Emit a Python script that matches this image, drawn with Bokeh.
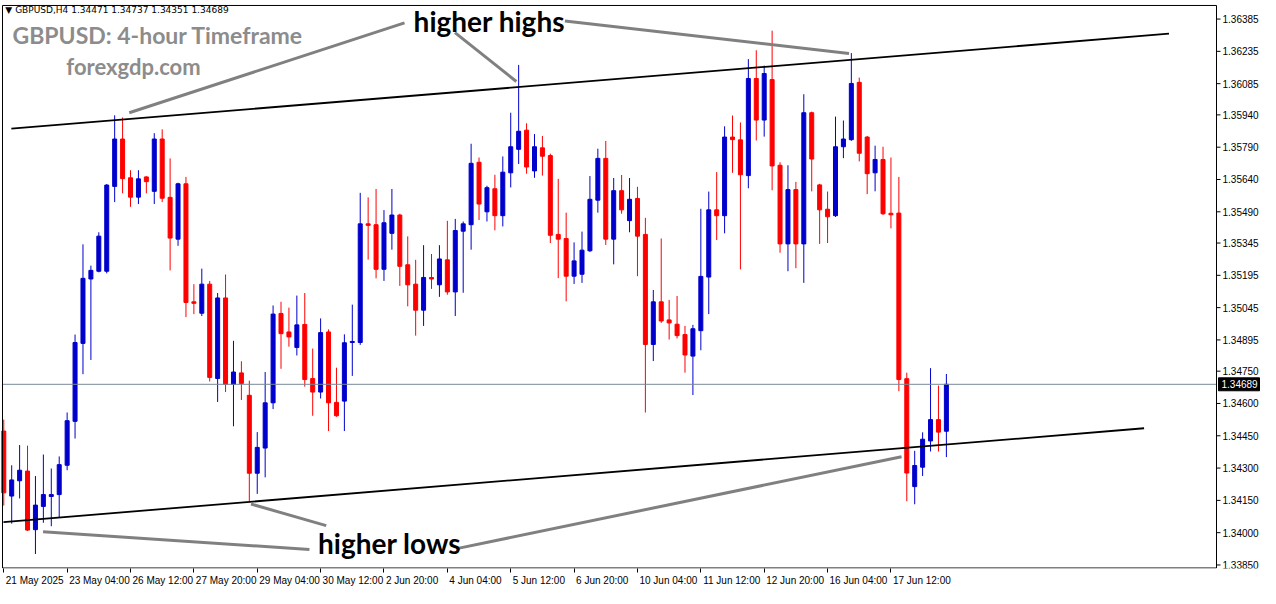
from bokeh.plotting import figure
from bokeh.models import FixedTicker, Label, Range1d, ColumnDataSource
from bokeh.core.properties import value
from bokeh.embed import file_html
from bokeh.resources import INLINE

# ---------------- data (GBPUSD H4, bar index 0 = 21 May 2025 20:00) ----------------
opens = [1.34472, 1.34170, 1.34241, 1.34286, 1.34014, 1.34122, 1.34168, 1.34177, 1.34313, 1.34517,
         1.34879, 1.35178, 1.35214, 1.35214, 1.35608, 1.35828, 1.35648, 1.35558, 1.35652, 1.35585,
         1.35828, 1.35557, 1.35363, 1.35620, 1.35072, 1.35019, 1.35154, 1.34716, 1.35090, 1.34689,
         1.34742, 1.34638, 1.34276, 1.34393, 1.34603, 1.35018, 1.34932, 1.34860, 1.34967, 1.34716,
         1.34653, 1.34932, 1.34605, 1.34611, 1.34883, 1.34883, 1.35434, 1.35430, 1.35223, 1.35390,
         1.35475, 1.35244, 1.35154, 1.35033, 1.35185, 1.35151, 1.35267, 1.35118, 1.35400, 1.35430,
         1.35720, 1.35490, 1.35597, 1.35472, 1.35671, 1.35780, 1.35869, 1.35680, 1.35787, 1.35751,
         1.35385, 1.35366, 1.35191, 1.35200, 1.35309, 1.35544, 1.35738, 1.35363, 1.35588, 1.35449,
         1.35552, 1.35385, 1.34874, 1.35072, 1.34988, 1.34968, 1.34920, 1.34820, 1.34938, 1.35187,
         1.35499, 1.35472, 1.35837, 1.35824, 1.35658, 1.36109, 1.35916, 1.36104, 1.35706, 1.35341,
         1.35593, 1.35341, 1.35950, 1.35615, 1.35502, 1.35472, 1.35792, 1.35825, 1.36091, 1.35837,
         1.35671, 1.35733, 1.35483, 1.35484, 1.34715, 1.34214, 1.34304, 1.34426, 1.34525, 1.34471]
highs = [1.34525, 1.34313, 1.34407, 1.34404, 1.34263, 1.34363, 1.34298, 1.34354, 1.34558, 1.34920,
         1.35339, 1.35240, 1.35395, 1.35619, 1.35938, 1.35928, 1.35683, 1.35683, 1.35655, 1.35855,
         1.35873, 1.35738, 1.35625, 1.35652, 1.35154, 1.35226, 1.35169, 1.35113, 1.35199, 1.34891,
         1.34796, 1.34706, 1.34467, 1.34746, 1.35055, 1.35072, 1.35045, 1.35101, 1.35113, 1.34855,
         1.34995, 1.34944, 1.34766, 1.34921, 1.35059, 1.35578, 1.35557, 1.35596, 1.35498, 1.35596,
         1.35481, 1.35376, 1.35267, 1.35335, 1.35294, 1.35335, 1.35448, 1.35457, 1.35445, 1.35806,
         1.35742, 1.35611, 1.35662, 1.35747, 1.35950, 1.36172, 1.35901, 1.35851, 1.35842, 1.35760,
         1.35643, 1.35486, 1.35348, 1.35398, 1.35656, 1.35783, 1.35819, 1.35647, 1.35661, 1.35647,
         1.35606, 1.35462, 1.35127, 1.35366, 1.35081, 1.35099, 1.34960, 1.34965, 1.35504, 1.35584,
         1.35674, 1.35887, 1.35937, 1.35905, 1.36199, 1.36240, 1.36169, 1.36331, 1.35720, 1.35706,
         1.35629, 1.36036, 1.35955, 1.35620, 1.35584, 1.35932, 1.35914, 1.36227, 1.36113, 1.35842,
         1.35797, 1.35792, 1.35742, 1.35652, 1.34743, 1.34380, 1.34466, 1.34764, 1.34683, 1.34737]
lows = [1.34126, 1.34042, 1.34159, 1.34008, 1.33901, 1.34046, 1.34030, 1.34072, 1.34290, 1.34437,
        1.34736, 1.34802, 1.35209, 1.35204, 1.35535, 1.35576, 1.35513, 1.35526, 1.35576, 1.35526,
        1.35535, 1.35218, 1.35332, 1.35001, 1.35015, 1.35006, 1.34702, 1.34607, 1.34653, 1.34494,
        1.34616, 1.34147, 1.34180, 1.34257, 1.34574, 1.34761, 1.34864, 1.34823, 1.34678, 1.34543,
        1.34623, 1.34472, 1.34538, 1.34472, 1.34728, 1.34872, 1.35268, 1.35181, 1.35169, 1.35314,
        1.35146, 1.35051, 1.34915, 1.34960, 1.35132, 1.35095, 1.35105, 1.35006, 1.35114, 1.35314,
        1.35452, 1.35445, 1.35404, 1.35422, 1.35603, 1.35712, 1.35667, 1.35648, 1.35658, 1.35345,
        1.35182, 1.35074, 1.35155, 1.35160, 1.35303, 1.35486, 1.35336, 1.35246, 1.35481, 1.35395,
        1.35191, 1.34558, 1.34797, 1.34974, 1.34897, 1.34902, 1.34743, 1.34639, 1.34847, 1.35015,
        1.35359, 1.35390, 1.35671, 1.35223, 1.35599, 1.35821, 1.35839, 1.35590, 1.35300, 1.35214,
        1.35228, 1.35160, 1.35585, 1.35341, 1.35345, 1.35466, 1.35739, 1.35819, 1.35724, 1.35572,
        1.35585, 1.35475, 1.35413, 1.34657, 1.34146, 1.34132, 1.34263, 1.34377, 1.34377, 1.34351]
closes = [1.34185, 1.34245, 1.34290, 1.34012, 1.34128, 1.34177, 1.34177, 1.34316, 1.34520, 1.34883,
          1.35181, 1.35218, 1.35377, 1.35614, 1.35828, 1.35644, 1.35558, 1.35643, 1.35630, 1.35828,
          1.35553, 1.35368, 1.35620, 1.35069, 1.35065, 1.35154, 1.34721, 1.35090, 1.34689, 1.34746,
          1.34693, 1.34276, 1.34396, 1.34603, 1.35015, 1.34924, 1.34909, 1.34965, 1.34711, 1.34653,
          1.34929, 1.34603, 1.34543, 1.34882, 1.34888, 1.35434, 1.35427, 1.35223, 1.35439, 1.35475,
          1.35237, 1.35151, 1.35033, 1.35185, 1.35178, 1.35271, 1.35118, 1.35403, 1.35434, 1.35715,
          1.35526, 1.35602, 1.35472, 1.35674, 1.35792, 1.35864, 1.35698, 1.35792, 1.35748, 1.35381,
          1.35363, 1.35191, 1.35262, 1.35312, 1.35548, 1.35738, 1.35363, 1.35588, 1.35499, 1.35548,
          1.35377, 1.34874, 1.35072, 1.34983, 1.34974, 1.34915, 1.34825, 1.34947, 1.35190, 1.35499,
          1.35472, 1.35837, 1.35825, 1.35662, 1.36109, 1.35916, 1.36132, 1.35703, 1.35341, 1.35593,
          1.35341, 1.35950, 1.35735, 1.35499, 1.35467, 1.35792, 1.35828, 1.36086, 1.35762, 1.35667,
          1.35733, 1.35481, 1.35476, 1.34711, 1.34277, 1.34312, 1.34434, 1.34525, 1.34467, 1.34689]

x_tick_bars = [0, 8, 16, 24, 32, 40, 48, 56, 64, 72, 80, 88, 96, 104, 112]
x_tick_labels = ["21 May 2025", "23 May 04:00", "26 May 12:00", "27 May 20:00", "29 May 04:00",
                 "30 May 12:00", "2 Jun 20:00", "4 Jun 04:00", "5 Jun 12:00", "6 Jun 20:00",
                 "10 Jun 04:00", "11 Jun 12:00", "12 Jun 20:00", "16 Jun 04:00", "17 Jun 12:00"]
y_ticks = [1.36385, 1.36235, 1.36085, 1.35940, 1.35790, 1.35640, 1.35490, 1.35345, 1.35195,
           1.35045, 1.34895, 1.34750, 1.34600, 1.34450, 1.34300, 1.34150, 1.34000, 1.33850]

# channel lines (bar index, price)
upper_x = [0.96, 147.1]
upper_y = [1.35876, 1.36317]
lower_x = [-0.04, 143.96]
lower_y = [1.34049, 1.34485]

# ---------------- layout geometry ----------------
W, H = 1260, 588
BOTTOM = 18                 # room for the time axis
FRAME_H = H - BOTTOM
BOX_L, BOX_R, BOX_T = 2, 1216, 5       # chart box inside the frame (px)
X0, X1 = -0.16, 153.1                  # bars at the box's left / right edge
P_TOP, P_BOT = 1.36448, 1.33836        # prices at the box's top / bottom edge
s = (BOX_R - BOX_L) / (X1 - X0)        # px per bar
ppp = (FRAME_H - 0.5 - BOX_T) / (P_TOP - P_BOT)   # px per price unit
x_start = X0 - BOX_L / s
x_end = X1 + (W - BOX_R) / s
y_end = P_TOP + BOX_T / ppp
y_start = P_BOT - 0.5 / ppp

p = figure(width=W, height=H, output_backend="svg", toolbar_location=None,
           x_range=Range1d(x_start, x_end), y_range=Range1d(y_start, y_end),
           y_axis_location=None,
           min_border_left=0, min_border_top=0, min_border_right=0, min_border_bottom=BOTTOM)
p.background_fill_color = "white"
p.border_fill_color = "white"
p.outline_line_color = None
p.xgrid.visible = False
p.ygrid.visible = False

FONT = "Liberation Sans"

# x axis (bottom) - labels left-aligned to their tick
cw = {" ": 2.78, ":": 2.78, "M": 8.33, "J": 5.0, "y": 5.0}
def text_w(txt):
    return sum(cw.get(ch, 5.56) for ch in txt)
centers = [b + (2 + text_w(t) / 2) / s for b, t in zip(x_tick_bars, x_tick_labels)]
xa = p.xaxis[0]
xa.ticker = FixedTicker(ticks=centers, minor_ticks=x_tick_bars)
xa.major_label_overrides = {c: t for c, t in zip(centers, x_tick_labels)}
xa.major_tick_out = 0
xa.major_tick_in = 0
xa.minor_tick_out = 4
xa.minor_tick_in = 0
xa.minor_tick_line_color = "black"
xa.axis_line_color = None
xa.major_label_text_font = FONT
xa.major_label_text_font_size = "10px"
xa.major_label_text_color = "black"
xa.major_label_standoff = 2

# ---------------- candles ----------------
idx = list(range(len(opens)))
bull = "#0000cd"
bear = "#ff0000"
colors = [bull if c >= o else bear for o, c in zip(opens, closes)]
src = ColumnDataSource(dict(
    x=idx, o=opens, h=highs, l=lows, c=closes,
    top=[max(o, c) for o, c in zip(opens, closes)],
    bot=[min(o, c) for o, c in zip(opens, closes)],
    color=colors))
p.segment(x0="x", y0="l", x1="x", y1="h", line_color="color", line_width=1, source=src)
p.vbar(x="x", top="top", bottom="bot", width=4 / s, fill_color="color", line_color="color",
       line_width=1, source=src)

# current price line
last_price = closes[-1]
p.line([X0, X1], [last_price, last_price], line_color="#778899", line_width=1)

# chart box
p.line([X0, X1, X1, X0, X0], [P_BOT, P_BOT, P_TOP, P_TOP, P_BOT], line_color="black", line_width=1)

# right price scale (ticks + labels)
p.segment(x0=[X1] * len(y_ticks), y0=y_ticks, x1=[X1 + 4 / s] * len(y_ticks), y1=y_ticks,
          line_color="black", line_width=1)
p.text(x=[X1 + 6 / s] * len(y_ticks), y=y_ticks, text=["%.5f" % t for t in y_ticks],
       text_font=value(FONT), text_font_size=value("10px"), text_color="black",
       text_align="left", text_baseline="middle")

# current price tag
tag_h = 13 / ppp
p.quad(left=[X1 + 2 / s], right=[X1 + 43 / s], top=[last_price + tag_h / 2],
       bottom=[last_price - tag_h / 2], fill_color="black", line_color="black")
p.text(x=[X1 + 5 / s], y=[last_price], text=["%.5f" % last_price], text_font=value(FONT),
       text_font_size=value("10px"), text_color="white", text_align="left",
       text_baseline="middle")

# channel lines
p.line(upper_x, upper_y, line_color="black", line_width=1.8)
p.line(lower_x, lower_y, line_color="black", line_width=1.8)

# pointer lines (bar index, price)
pointers = [
    ([15.84, 50.59], [1.35950, 1.36367]),
    ([56.96, 64.71], [1.36322, 1.36095]),
    ([70.84, 106.71], [1.36376, 1.36225]),
    ([4.96, 38.59], [1.34004, 1.33922]),
    ([31.21, 40.71], [1.34133, 1.34033]),
    ([57.34, 113.34], [1.33927, 1.34353]),
]
for xs, ys in pointers:
    p.line(xs, ys, line_color="#808080", line_width=3)

BIG = "Lato"
p.add_layout(Label(x=61.3, y=1.36378, text="higher highs", text_font=BIG, text_font_style="bold",
                   text_font_size="28px", text_color="black", text_align="center",
                   text_baseline="middle"))
p.add_layout(Label(x=48.7, y=1.33954, text="higher lows", text_font=BIG, text_font_style="bold",
                   text_font_size="28px", text_color="black", text_align="center",
                   text_baseline="middle"))
p.add_layout(Label(x=1.1, y=1.36313, text="GBPUSD: 4-hour Timeframe", text_font=BIG,
                   text_font_style="bold", text_font_size="23px", text_color="#8c8c8c",
                   text_align="left", text_baseline="middle"))
p.add_layout(Label(x=7.9, y=1.36163, text="forexgdp.com", text_font=BIG,
                   text_font_style="bold", text_font_size="22px", text_color="#8c8c8c",
                   text_align="left", text_baseline="middle"))
header = "\u25bc GBPUSD,H4  %.5f %.5f %.5f %.5f" % (opens[-1], highs[-1], lows[-1], closes[-1])
p.add_layout(Label(x=0.2, y=1.36426, text=header, text_font="DejaVu Sans",
                   text_font_size="9px", text_color="black", text_align="left",
                   text_baseline="middle"))

open("out.html", "w").write(file_html(p, INLINE))
